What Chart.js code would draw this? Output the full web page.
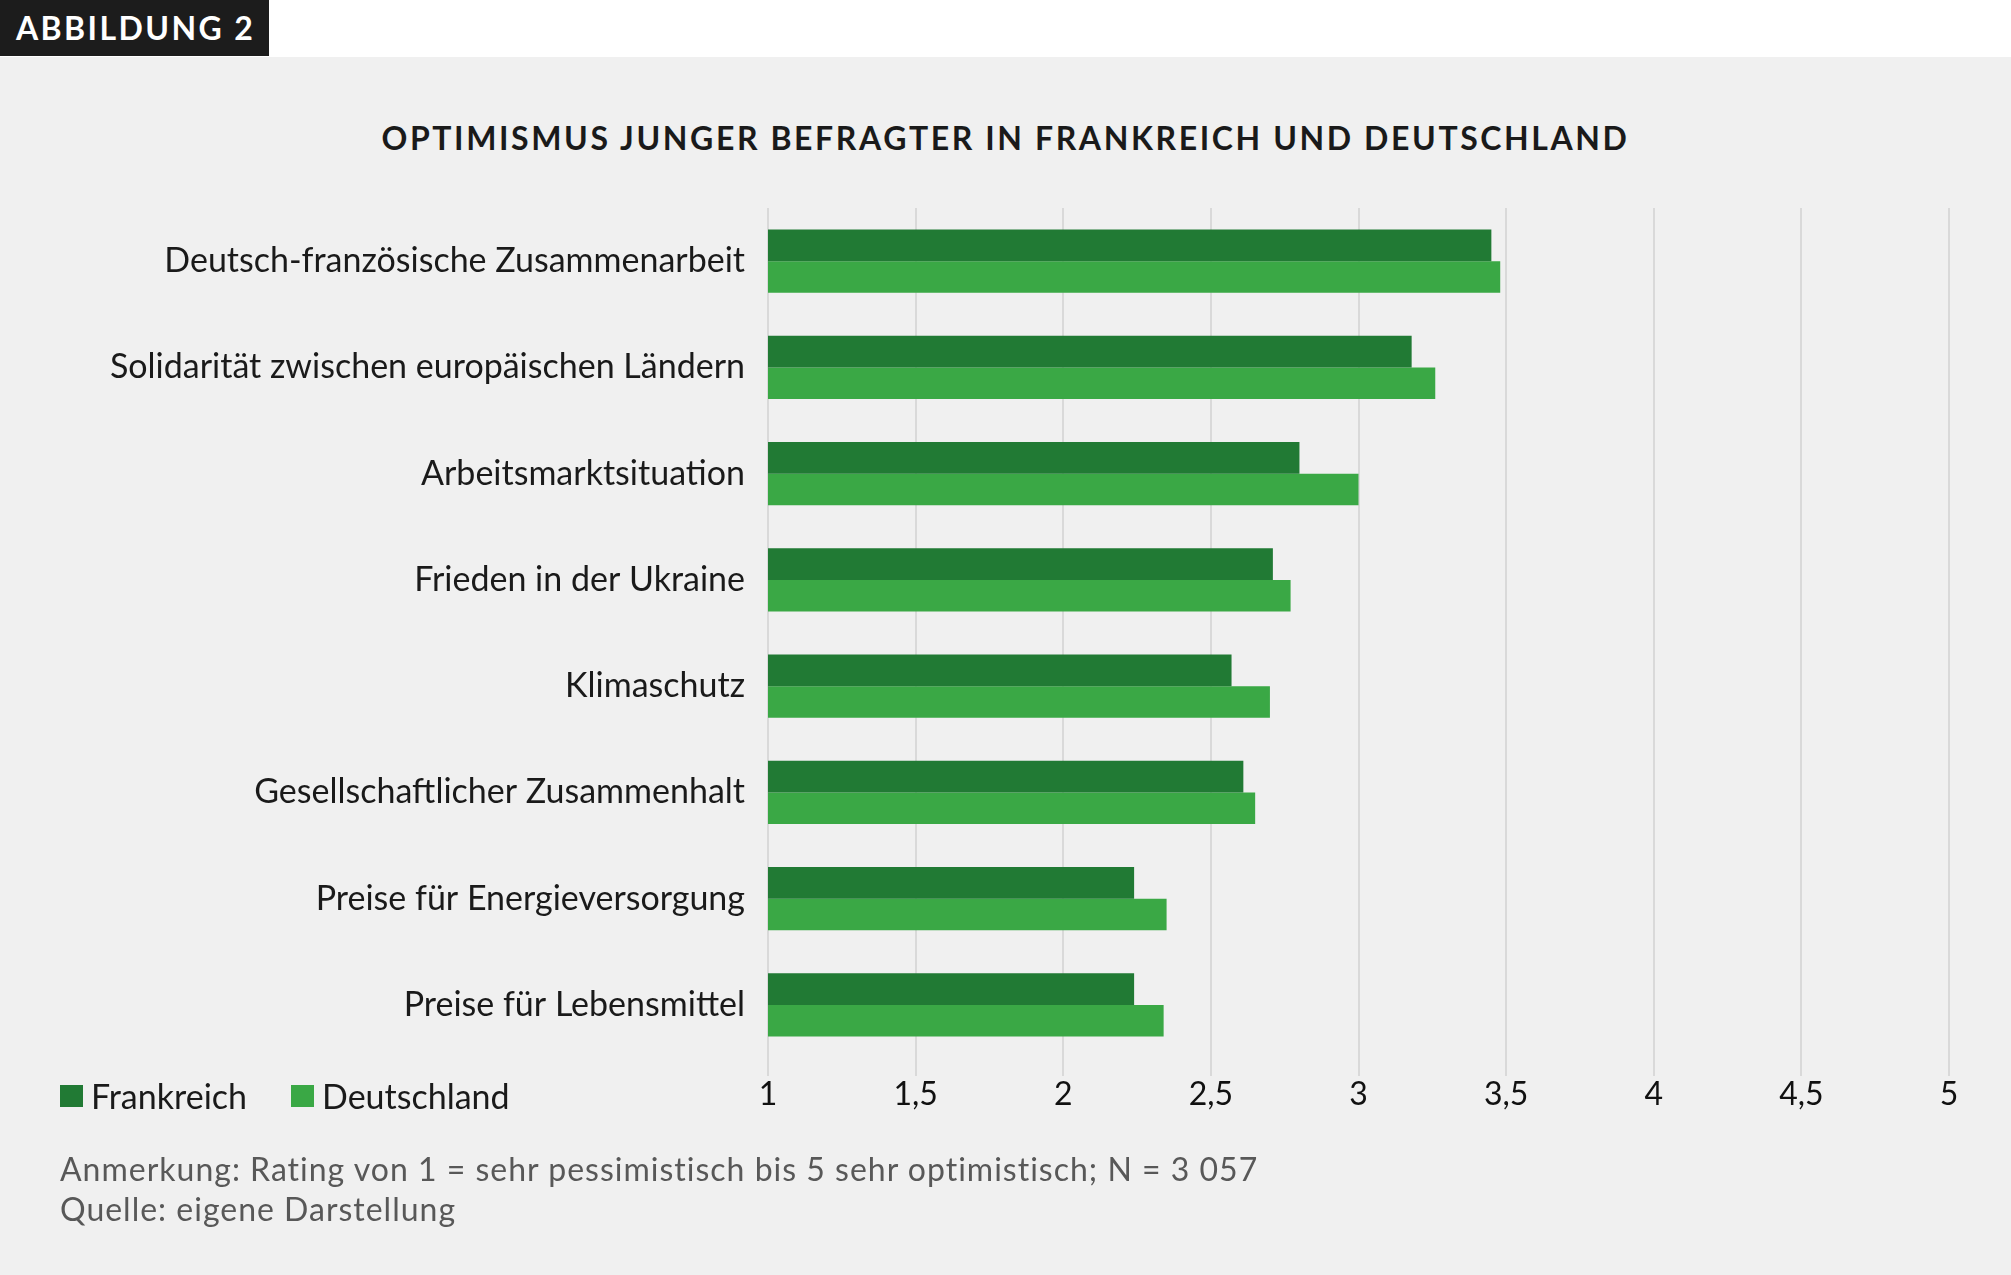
<!DOCTYPE html>
<html lang="de">
<head>
<meta charset="utf-8">
<title>Optimismus junger Befragter</title>
<script src="https://cdn.jsdelivr.net/npm/chart.js@4/dist/chart.umd.min.js"></script>
<style>
  html, body { margin: 0; padding: 0; }
  body {
    width: 2011px;
    height: 1275px;
    position: relative;
    overflow: hidden;
    background: #f0f0f0;
    font-family: Lato, "Open Sans", sans-serif;
    color: #1a1a1a;
  }
  .top-strip { position: absolute; left: 0; top: 0; width: 2011px; height: 57px; background: #fff; }
  .badge {
    position: absolute; left: 0; top: 0; width: 269px; height: 56px;
    background: #1c1c1c; color: #fff;
    font-size: 32px; font-weight: 700; letter-spacing: 2.4px;
    line-height: 56px; padding-left: 16px; box-sizing: border-box;
  }
  .title {
    position: absolute; left: 0; width: 2011px; top: 118px;
    text-align: center; font-size: 32px; font-weight: 700;
    letter-spacing: 2.6px; line-height: 40px; color: #1a1a1a;
  }
  #chartCanvas { position: absolute; left: 0; top: 0; }
  .legend {
    position: absolute; left: 60px; top: 1076px;
    font-size: 34px; line-height: 40px; display: flex; align-items: center;
  }
  .legend span.sw { display: inline-block; width: 23px; height: 22px; margin-right: 8px; }
  .legend .item { display: flex; align-items: center; margin-right: 44px; }
  .notes {
    position: absolute; left: 60px; top: 1149px;
    font-size: 32px; line-height: 40px; letter-spacing: 1px; color: #585858;
  }
</style>
</head>
<body>
<div class="top-strip"></div>
<div class="badge">ABBILDUNG 2</div>
<div class="title">OPTIMISMUS JUNGER BEFRAGTER IN FRANKREICH UND DEUTSCHLAND</div>
<canvas id="chartCanvas" width="2011" height="1275"></canvas>
<div class="legend" id="legend"></div>
<div class="notes">
  Anmerkung: Rating von 1 = sehr pessimistisch bis 5 sehr optimistisch; N = 3 057<br>
  Quelle: eigene Darstellung
</div>
<script>
const categories = [
  "Deutsch-französische Zusammenarbeit",
  "Solidarität zwischen europäischen Ländern",
  "Arbeitsmarktsituation",
  "Frieden in der Ukraine",
  "Klimaschutz",
  "Gesellschaftlicher Zusammenhalt",
  "Preise für Energieversorgung",
  "Preise für Lebensmittel",
];
const seriesNames = ["Frankreich", "Deutschland"];
const frankreich = [3.45, 3.18, 2.80, 2.71, 2.57, 2.61, 2.24, 2.24];
const deutschland = [3.48, 3.26, 3.00, 2.77, 2.70, 2.65, 2.35, 2.34];
const tickLabels = ["1", "1,5", "2", "2,5", "3", "3,5", "4", "4,5", "5"];

const DARK_GREEN = "#217a34";
const LIGHT_GREEN = "#3aa845";
const GRID = "#d9d9d9";

const canvas = document.getElementById("chartCanvas");

new Chart(canvas, {
  type: "bar",
  data: {
    labels: categories,
    datasets: [
      { label: seriesNames[0], data: frankreich, backgroundColor: DARK_GREEN },
      { label: seriesNames[1], data: deutschland, backgroundColor: LIGHT_GREEN },
    ],
  },
  options: {
    indexAxis: "y",
    responsive: false,
    animation: false,
    devicePixelRatio: 1,
    categoryPercentage: 0.594,
    barPercentage: 1,
    layout: { padding: { left: 0, right: 62, top: 208, bottom: 157 } },
    plugins: { legend: { display: false }, tooltip: { enabled: false } },
    scales: {
      x: {
        min: 1,
        max: 5,
        ticks: {
          stepSize: 0.5,
          color: "#111",
          font: { family: "Lato", size: 32 },
          padding: -1,
          callback: (value, index) => tickLabels[index],
        },
        grid: { color: GRID, lineWidth: 2, drawTicks: true, tickLength: 18 },
        border: { display: false },
        afterFit: (scale) => { scale.height = 60; },
      },
      y: {
        ticks: {
          color: "#1a1a1a",
          font: { family: "Lato", size: 34 },
          padding: 23,
        },
        grid: { display: false, drawTicks: false },
        border: { display: false },
        afterFit: (scale) => { scale.width = 768; },
      },
    },
  },
});

const legendEl = document.getElementById("legend");
[DARK_GREEN, LIGHT_GREEN].forEach((color, i) => {
  const item = document.createElement("div");
  item.className = "item";
  item.innerHTML = `<span class="sw" style="background:${color}"></span>${seriesNames[i]}`;
  legendEl.appendChild(item);
});
</script>
</body>
</html>
